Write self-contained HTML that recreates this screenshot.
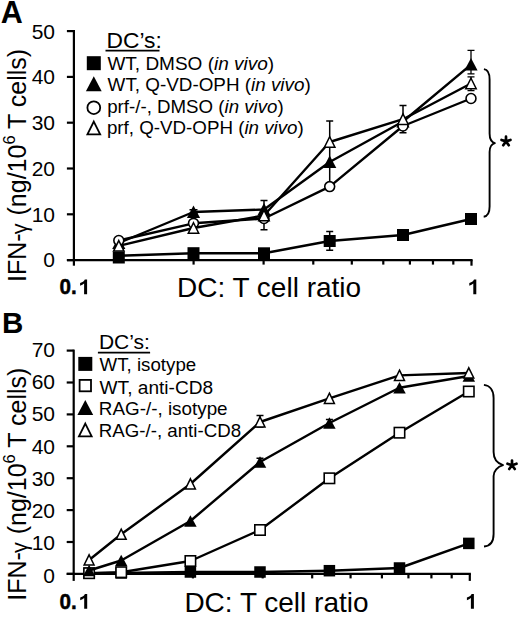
<!DOCTYPE html>
<html><head><meta charset="utf-8"><style>html,body{margin:0;padding:0;background:#fff;width:520px;height:617px;overflow:hidden}svg{display:block}</style></head><body>
<svg width="520" height="617" viewBox="0 0 520 617">
<rect width="520" height="617" fill="#fff"/>
<text x="0.8" y="22.8" font-family="&#39;Liberation Sans&#39;, sans-serif" font-size="30.5" font-weight="bold">A</text>
<path d="M73.90,30.00V265.70" stroke="#000" stroke-width="2.2" fill="none"/>
<path d="M66.90,260.10H472.60" stroke="#000" stroke-width="2.2" fill="none"/>
<path d="M66.90,260.10H73.90" stroke="#000" stroke-width="2.2"/>
<text x="55" y="267.35" font-family="&#39;Liberation Sans&#39;, sans-serif" font-size="21" text-anchor="end">0</text>
<path d="M66.90,214.30H73.90" stroke="#000" stroke-width="2.2"/>
<text x="55" y="221.59" font-family="&#39;Liberation Sans&#39;, sans-serif" font-size="21" text-anchor="end">10</text>
<path d="M66.90,168.50H73.90" stroke="#000" stroke-width="2.2"/>
<text x="55" y="175.83" font-family="&#39;Liberation Sans&#39;, sans-serif" font-size="21" text-anchor="end">20</text>
<path d="M66.90,122.70H73.90" stroke="#000" stroke-width="2.2"/>
<text x="55" y="130.07" font-family="&#39;Liberation Sans&#39;, sans-serif" font-size="21" text-anchor="end">30</text>
<path d="M66.90,76.90H73.90" stroke="#000" stroke-width="2.2"/>
<text x="55" y="84.31" font-family="&#39;Liberation Sans&#39;, sans-serif" font-size="21" text-anchor="end">40</text>
<path d="M66.90,31.10H73.90" stroke="#000" stroke-width="2.2"/>
<text x="55" y="38.55" font-family="&#39;Liberation Sans&#39;, sans-serif" font-size="21" text-anchor="end">50</text>
<path d="M193.59,260.10V264.60" stroke="#000" stroke-width="2.2"/>
<path d="M263.60,260.10V264.60" stroke="#000" stroke-width="2.2"/>
<path d="M313.28,260.10V264.60" stroke="#000" stroke-width="2.2"/>
<path d="M351.81,260.10V264.60" stroke="#000" stroke-width="2.2"/>
<path d="M383.29,260.10V264.60" stroke="#000" stroke-width="2.2"/>
<path d="M409.91,260.10V264.60" stroke="#000" stroke-width="2.2"/>
<path d="M432.97,260.10V264.60" stroke="#000" stroke-width="2.2"/>
<path d="M453.31,260.10V264.60" stroke="#000" stroke-width="2.2"/>
<path d="M471.50,260.10V265.70" stroke="#000" stroke-width="2.2"/>
<text transform="translate(59.40,294.30) scale(0.92,1)" font-family="&#39;Liberation Sans&#39;, sans-serif" font-size="22.5" font-weight="bold" stroke="#000" stroke-width="0.5">0.</text>
<path d="M84.10,294.30H87.10V279.50H84.80C84.30,280.90 83.00,282.10 80.10,283.10V285.70C81.70,285.20 83.10,284.40 84.10,283.50Z" fill="#000"/>
<path d="M473.30,294.30H476.30V279.50H474.00C473.50,280.90 472.20,282.10 469.30,283.10V285.70C470.90,285.20 472.30,284.40 473.30,283.50Z" fill="#000"/>
<text x="177" y="297.20" font-family="&#39;Liberation Sans&#39;, sans-serif" font-size="28">DC: T cell ratio</text>
<text transform="translate(26.3,282) rotate(-90)" font-family="&#39;Liberation Sans&#39;, sans-serif" font-size="25">IFN-<tspan dx="-0.8" dy="0.6" font-size="21.5">γ</tspan><tspan dy="-0.6" dx="1">&#160;</tspan>(ng/10<tspan dy="-11" font-size="16.5">6</tspan><tspan dy="11"> T cells)</tspan></text>
<text x="106.5" y="48" font-family="&#39;Liberation Sans&#39;, sans-serif" font-size="22.8">DC’s:</text>
<path d="M105.5,50.6H159.5" stroke="#000" stroke-width="1.6"/>
<rect x="86.80" y="56.20" width="14.00" height="14.00" fill="#000"/>
<text x="107.4" y="70" font-family="&#39;Liberation Sans&#39;, sans-serif" font-size="19.0">WT, DMSO (<tspan font-style="italic">in vivo</tspan>)</text>
<polygon points="93.80,76.20 101.70,91.20 85.90,91.20" fill="#000"/>
<text x="107.6" y="91.3" font-family="&#39;Liberation Sans&#39;, sans-serif" font-size="18.85">WT, Q-VD-OPH (<tspan font-style="italic">in vivo</tspan>)</text>
<circle cx="93.80" cy="107.70" r="6.40" fill="#fff" stroke="#000" stroke-width="1.8"/>
<text x="107.2" y="112.8" font-family="&#39;Liberation Sans&#39;, sans-serif" font-size="18.7">prf-/-, DMSO (<tspan font-style="italic">in vivo</tspan>)</text>
<polygon points="93.80,121.62 100.17,134.30 87.43,134.30" fill="#fff" stroke="#000" stroke-width="1.8" stroke-linejoin="miter"/>
<text x="106.9" y="134.3" font-family="&#39;Liberation Sans&#39;, sans-serif" font-size="18.75">prf, Q-VD-OPH (<tspan font-style="italic">in vivo</tspan>)</text>
<path d="M483.9,69.1 C487.5,69.5 489.6,73 489.6,79.5 V133.6 C489.6,139 491.5,142.3 494.9,143.1 C491.5,143.9 489.6,147 489.6,152 V206.5 C489.6,212.5 487.5,216.2 483.7,216.7" stroke="#000" stroke-width="1.9" fill="none" stroke-linejoin="round"/>
<path d="M506.00,141.40L506.00,136.70M506.00,141.40L510.47,139.95M506.00,141.40L508.76,145.20M506.00,141.40L503.24,145.20M506.00,141.40L501.53,139.95" stroke="#000" stroke-width="2.7" stroke-linecap="round" fill="none"/>
<polyline points="118.80,255.70 193.50,253.20 264.00,253.30 329.70,241.00 403.00,235.00 471.00,219.00" fill="none" stroke="#000" stroke-width="2.4" stroke-linejoin="round"/>
<path d="M329.70,231.40V250.30M326.20,231.40H333.20M326.20,250.30H333.20" stroke="#000" stroke-width="1.5" fill="none"/>
<rect x="112.80" y="251.50" width="12.00" height="12.00" fill="#000"/>
<rect x="187.50" y="247.20" width="12.00" height="12.00" fill="#000"/>
<rect x="258.00" y="247.30" width="12.00" height="12.00" fill="#000"/>
<rect x="323.70" y="235.00" width="12.00" height="12.00" fill="#000"/>
<rect x="397.00" y="229.00" width="12.00" height="12.00" fill="#000"/>
<rect x="465.00" y="213.00" width="12.00" height="12.00" fill="#000"/>
<polyline points="118.80,243.00 193.50,212.00 264.00,209.50 329.70,162.00 403.00,121.50 471.00,64.60" fill="none" stroke="#000" stroke-width="2.4" stroke-linejoin="round"/>
<path d="M264.00,200.50V229.70M260.50,200.50H267.50M260.50,229.70H267.50" stroke="#000" stroke-width="1.5" fill="none"/>
<path d="M329.70,120.90V186.00M326.20,120.90H333.20" stroke="#000" stroke-width="1.5" fill="none"/>
<path d="M471.00,50.40V73.80M467.50,50.40H474.50M467.50,73.80H474.50" stroke="#000" stroke-width="1.3" fill="none"/>
<path d="M193.50,209.80V213.50M189.50,209.80H197.50M189.50,213.50H197.50" stroke="#000" stroke-width="1.5" fill="none"/>
<polygon points="118.80,236.50 125.40,248.90 112.20,248.90" fill="#000"/>
<polygon points="193.50,205.50 200.10,217.90 186.90,217.90" fill="#000"/>
<polygon points="264.00,203.00 270.60,215.40 257.40,215.40" fill="#000"/>
<polygon points="329.70,155.50 336.30,167.90 323.10,167.90" fill="#000"/>
<polygon points="403.00,115.00 409.60,127.40 396.40,127.40" fill="#000"/>
<polygon points="471.00,58.10 477.60,70.50 464.40,70.50" fill="#000"/>
<polyline points="118.80,240.50 193.50,223.30 264.00,218.50 329.70,186.60 403.00,126.00 471.00,98.50" fill="none" stroke="#000" stroke-width="2.4" stroke-linejoin="round"/>
<path d="M403.00,105.50V132.70M399.50,105.50H406.50M399.50,132.70H406.50" stroke="#000" stroke-width="1.5" fill="none"/>
<circle cx="118.80" cy="240.50" r="4.95" fill="#fff" stroke="#000" stroke-width="1.6"/>
<circle cx="193.50" cy="223.30" r="4.95" fill="#fff" stroke="#000" stroke-width="1.6"/>
<circle cx="264.00" cy="218.50" r="4.95" fill="#fff" stroke="#000" stroke-width="1.6"/>
<circle cx="329.70" cy="186.60" r="4.95" fill="#fff" stroke="#000" stroke-width="1.6"/>
<circle cx="403.00" cy="126.00" r="4.95" fill="#fff" stroke="#000" stroke-width="1.6"/>
<circle cx="471.00" cy="98.50" r="4.95" fill="#fff" stroke="#000" stroke-width="1.6"/>
<polyline points="118.80,245.80 193.50,228.00 264.00,215.50 329.70,142.00 403.00,119.20 471.00,83.50" fill="none" stroke="#000" stroke-width="2.4" stroke-linejoin="round"/>
<path d="M471.00,76.80V90.60M467.50,76.80H474.50M467.50,90.60H474.50" stroke="#000" stroke-width="1.3" fill="none"/>
<polygon points="118.80,240.55 124.02,251.05 113.58,251.05" fill="#fff" stroke="#000" stroke-width="1.5" stroke-linejoin="miter"/>
<polygon points="193.50,222.75 198.72,233.25 188.28,233.25" fill="#fff" stroke="#000" stroke-width="1.5" stroke-linejoin="miter"/>
<polygon points="264.00,210.25 269.23,220.75 258.77,220.75" fill="#fff" stroke="#000" stroke-width="1.5" stroke-linejoin="miter"/>
<polygon points="329.70,136.75 334.93,147.25 324.47,147.25" fill="#fff" stroke="#000" stroke-width="1.5" stroke-linejoin="miter"/>
<polygon points="403.00,113.95 408.23,124.45 397.77,124.45" fill="#fff" stroke="#000" stroke-width="1.5" stroke-linejoin="miter"/>
<polygon points="471.00,78.25 476.23,88.75 465.77,88.75" fill="#fff" stroke="#000" stroke-width="1.5" stroke-linejoin="miter"/>
<text x="1.9" y="332.5" font-family="&#39;Liberation Sans&#39;, sans-serif" font-size="29.5" font-weight="bold">B</text>
<path d="M73.70,349.60V580.90" stroke="#000" stroke-width="2.2" fill="none"/>
<path d="M66.70,573.90H470.90" stroke="#000" stroke-width="2.2" fill="none"/>
<path d="M66.70,573.90H73.70" stroke="#000" stroke-width="2.2"/>
<text x="55" y="582.55" font-family="&#39;Liberation Sans&#39;, sans-serif" font-size="21" text-anchor="end">0</text>
<path d="M66.70,542.00H73.70" stroke="#000" stroke-width="2.2"/>
<text x="55" y="550.34" font-family="&#39;Liberation Sans&#39;, sans-serif" font-size="21" text-anchor="end">10</text>
<path d="M66.70,510.10H73.70" stroke="#000" stroke-width="2.2"/>
<text x="55" y="518.12" font-family="&#39;Liberation Sans&#39;, sans-serif" font-size="21" text-anchor="end">20</text>
<path d="M66.70,478.20H73.70" stroke="#000" stroke-width="2.2"/>
<text x="55" y="485.91" font-family="&#39;Liberation Sans&#39;, sans-serif" font-size="21" text-anchor="end">30</text>
<path d="M66.70,446.30H73.70" stroke="#000" stroke-width="2.2"/>
<text x="55" y="453.69" font-family="&#39;Liberation Sans&#39;, sans-serif" font-size="21" text-anchor="end">40</text>
<path d="M66.70,414.40H73.70" stroke="#000" stroke-width="2.2"/>
<text x="55" y="421.48" font-family="&#39;Liberation Sans&#39;, sans-serif" font-size="21" text-anchor="end">50</text>
<path d="M66.70,382.50H73.70" stroke="#000" stroke-width="2.2"/>
<text x="55" y="389.27" font-family="&#39;Liberation Sans&#39;, sans-serif" font-size="21" text-anchor="end">60</text>
<path d="M66.70,350.60H73.70" stroke="#000" stroke-width="2.2"/>
<text x="55" y="357.05" font-family="&#39;Liberation Sans&#39;, sans-serif" font-size="21" text-anchor="end">70</text>
<path d="M192.94,573.90V578.40" stroke="#000" stroke-width="2.2"/>
<path d="M262.69,573.90V578.40" stroke="#000" stroke-width="2.2"/>
<path d="M312.18,573.90V578.40" stroke="#000" stroke-width="2.2"/>
<path d="M350.56,573.90V578.40" stroke="#000" stroke-width="2.2"/>
<path d="M381.93,573.90V578.40" stroke="#000" stroke-width="2.2"/>
<path d="M408.44,573.90V578.40" stroke="#000" stroke-width="2.2"/>
<path d="M431.41,573.90V578.40" stroke="#000" stroke-width="2.2"/>
<path d="M451.68,573.90V578.40" stroke="#000" stroke-width="2.2"/>
<path d="M469.80,573.90V580.90" stroke="#000" stroke-width="2.2"/>
<text transform="translate(59.50,608.80) scale(0.92,1)" font-family="&#39;Liberation Sans&#39;, sans-serif" font-size="22.5" font-weight="bold" stroke="#000" stroke-width="0.5">0.</text>
<path d="M84.20,608.80H87.20V594.00H84.90C84.40,595.40 83.10,596.60 80.20,597.60V600.20C81.80,599.70 83.20,598.90 84.20,598.00Z" fill="#000"/>
<path d="M470.90,608.80H473.90V594.00H471.60C471.10,595.40 469.80,596.60 466.90,597.60V600.20C468.50,599.70 469.90,598.90 470.90,598.00Z" fill="#000"/>
<text x="184.4" y="612.40" font-family="&#39;Liberation Sans&#39;, sans-serif" font-size="28">DC: T cell ratio</text>
<text transform="translate(26.3,600.8) rotate(-90)" font-family="&#39;Liberation Sans&#39;, sans-serif" font-size="25">IFN-<tspan dx="-0.8" dy="0.6" font-size="21.5">γ</tspan><tspan dy="-0.6" dx="1">&#160;</tspan>(ng/10<tspan dy="-11" font-size="16.5">6</tspan><tspan dy="11"> T cells)</tspan></text>
<text x="98.9" y="349.3" font-family="&#39;Liberation Sans&#39;, sans-serif" font-size="21">DC’s:</text>
<path d="M97.9,352.6H150.10000000000002" stroke="#000" stroke-width="1.6"/>
<rect x="78.30" y="356.90" width="14.00" height="14.00" fill="#000"/>
<text x="99.6" y="371.3" font-family="&#39;Liberation Sans&#39;, sans-serif" font-size="18.7">WT, isotype</text>
<rect x="79.60" y="379.90" width="11.40" height="11.40" fill="#fff" stroke="#000" stroke-width="1.8"/>
<text x="99.6" y="393.5" font-family="&#39;Liberation Sans&#39;, sans-serif" font-size="19.1">WT, anti-CD8</text>
<polygon points="85.30,400.10 93.20,415.10 77.40,415.10" fill="#000"/>
<text x="98.8" y="415" font-family="&#39;Liberation Sans&#39;, sans-serif" font-size="18.85">RAG-/-, isotype</text>
<polygon points="85.30,423.62 91.67,436.30 78.93,436.30" fill="#fff" stroke="#000" stroke-width="1.8" stroke-linejoin="miter"/>
<text x="98.8" y="436.9" font-family="&#39;Liberation Sans&#39;, sans-serif" font-size="18.7">RAG-/-, anti-CD8</text>
<path d="M483.9,384.9 C489.5,385.5 493.6,390 493.6,397.9 V452.1 C493.6,459 497.5,463.5 503,465.1 C497.5,466.7 493.6,471 493.6,476 V534 C493.6,541.5 490,546 484,546.5" stroke="#000" stroke-width="1.9" fill="none" stroke-linejoin="round"/>
<path d="M512.00,465.20L512.00,460.50M512.00,465.20L516.47,463.75M512.00,465.20L514.76,469.00M512.00,465.20L509.24,469.00M512.00,465.20L507.53,463.75" stroke="#000" stroke-width="2.7" stroke-linecap="round" fill="none"/>
<polyline points="89.10,573.20 121.20,573.00 190.40,572.00 260.00,572.00 329.40,570.70 399.50,568.00 468.80,543.40" fill="none" stroke="#000" stroke-width="2.4" stroke-linejoin="round"/>
<rect x="83.35" y="567.45" width="11.50" height="11.50" fill="#000"/>
<rect x="115.45" y="567.25" width="11.50" height="11.50" fill="#000"/>
<rect x="184.65" y="566.25" width="11.50" height="11.50" fill="#000"/>
<rect x="254.25" y="566.25" width="11.50" height="11.50" fill="#000"/>
<rect x="323.65" y="564.95" width="11.50" height="11.50" fill="#000"/>
<rect x="393.75" y="562.25" width="11.50" height="11.50" fill="#000"/>
<rect x="463.05" y="537.65" width="11.50" height="11.50" fill="#000"/>
<polyline points="89.10,573.20 121.20,572.20 190.40,561.00 260.00,530.00 329.40,478.30 399.50,432.70 468.80,391.50" fill="none" stroke="#000" stroke-width="2.4" stroke-linejoin="round"/>
<rect x="83.90" y="568.00" width="10.40" height="10.40" fill="#fff" stroke="#000" stroke-width="1.6"/>
<rect x="116.00" y="567.00" width="10.40" height="10.40" fill="#fff" stroke="#000" stroke-width="1.6"/>
<rect x="185.20" y="555.80" width="10.40" height="10.40" fill="#fff" stroke="#000" stroke-width="1.6"/>
<rect x="254.80" y="524.80" width="10.40" height="10.40" fill="#fff" stroke="#000" stroke-width="1.6"/>
<rect x="324.20" y="473.10" width="10.40" height="10.40" fill="#fff" stroke="#000" stroke-width="1.6"/>
<rect x="394.30" y="427.50" width="10.40" height="10.40" fill="#fff" stroke="#000" stroke-width="1.6"/>
<rect x="463.60" y="386.30" width="10.40" height="10.40" fill="#fff" stroke="#000" stroke-width="1.6"/>
<polyline points="89.10,570.50 121.20,560.50 190.40,521.00 260.00,462.00 329.40,423.00 399.50,387.80 468.80,376.00" fill="none" stroke="#000" stroke-width="2.4" stroke-linejoin="round"/>
<path d="M260.00,458.30V465.70M256.50,458.30H263.50M256.50,465.70H263.50" stroke="#000" stroke-width="1.5" fill="none"/>
<path d="M329.40,419.40V426.60M325.90,419.40H332.90M325.90,426.60H332.90" stroke="#000" stroke-width="1.5" fill="none"/>
<polygon points="89.10,564.75 95.35,576.25 82.85,576.25" fill="#000"/>
<polygon points="121.20,554.75 127.45,566.25 114.95,566.25" fill="#000"/>
<polygon points="190.40,515.25 196.65,526.75 184.15,526.75" fill="#000"/>
<polygon points="260.00,456.25 266.25,467.75 253.75,467.75" fill="#000"/>
<polygon points="329.40,417.25 335.65,428.75 323.15,428.75" fill="#000"/>
<polygon points="399.50,382.05 405.75,393.55 393.25,393.55" fill="#000"/>
<polygon points="468.80,370.25 475.05,381.75 462.55,381.75" fill="#000"/>
<polyline points="89.10,560.00 121.20,534.30 190.40,484.00 260.00,422.00 329.40,398.40 399.50,375.40 468.80,373.00" fill="none" stroke="#000" stroke-width="2.4" stroke-linejoin="round"/>
<path d="M260.00,415.60V427.00M256.50,415.60H263.50M256.50,427.00H263.50" stroke="#000" stroke-width="1.5" fill="none"/>
<polygon points="89.10,554.80 94.07,565.00 84.12,565.00" fill="#fff" stroke="#000" stroke-width="1.5" stroke-linejoin="miter"/>
<polygon points="121.20,529.10 126.17,539.30 116.23,539.30" fill="#fff" stroke="#000" stroke-width="1.5" stroke-linejoin="miter"/>
<polygon points="190.40,478.80 195.38,489.00 185.43,489.00" fill="#fff" stroke="#000" stroke-width="1.5" stroke-linejoin="miter"/>
<polygon points="260.00,416.80 264.98,427.00 255.03,427.00" fill="#fff" stroke="#000" stroke-width="1.5" stroke-linejoin="miter"/>
<polygon points="329.40,393.20 334.38,403.40 324.42,403.40" fill="#fff" stroke="#000" stroke-width="1.5" stroke-linejoin="miter"/>
<polygon points="399.50,370.20 404.48,380.40 394.52,380.40" fill="#fff" stroke="#000" stroke-width="1.5" stroke-linejoin="miter"/>
<polygon points="468.80,367.80 473.78,378.00 463.82,378.00" fill="#fff" stroke="#000" stroke-width="1.5" stroke-linejoin="miter"/>
</svg>
</body></html>
